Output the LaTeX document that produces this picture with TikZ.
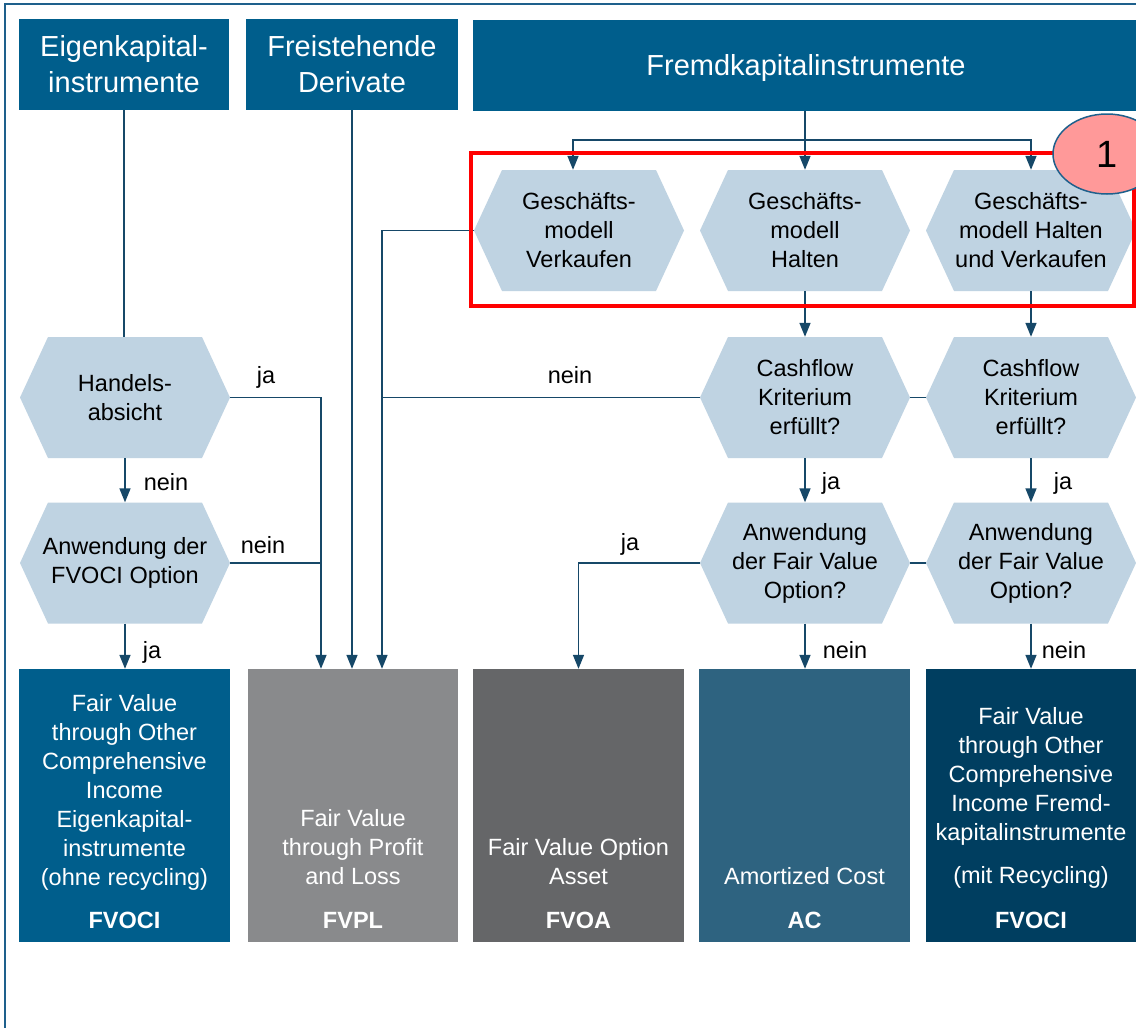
\documentclass[tikz,border=0pt]{standalone}
\usepackage{fontspec}
\setmainfont{Liberation Sans}
\usetikzlibrary{arrows.meta,shapes.geometric}

\definecolor{hdrblue}{RGB}{0,94,140}
\definecolor{hexfill}{RGB}{191,211,226}
\definecolor{linecol}{RGB}{22,72,104}
\definecolor{framecol}{RGB}{30,96,140}
\definecolor{fvplgray}{RGB}{137,138,140}
\definecolor{fvoagray}{RGB}{101,102,104}
\definecolor{acblue}{RGB}{46,99,128}
\definecolor{fkblue}{RGB}{0,62,96}
\definecolor{markfill}{RGB}{255,153,153}

% hexagonal decision box: name, x, y, text
\newcommand\HexNode[4]{%
  \fill[hexfill] ({#2-105},#3) -- ({#2-77},{#3-60.5}) -- ({#2+77},{#3-60.5})
    -- ({#2+105},#3) -- ({#2+77},{#3+60.5}) -- ({#2-77},{#3+60.5}) -- cycle;
  \node[hextxt] (#1) at (#2,#3) {#4};
}

\begin{document}
\begin{tikzpicture}[x=1pt,y=-1pt,
  conn/.style={draw=linecol,line width=1.5pt},
  arr/.style={conn,-{Triangle[length=14pt,width=11pt]}},
  hdr/.style={fill=hdrblue,text=white,inner sep=0,align=center,minimum height=91pt,
              font=\fontsize{29}{36}\selectfont},
  hextxt/.style={inner sep=0,minimum width=210pt,minimum height=121pt,align=center,
                 font=\fontsize{23.5}{29}\selectfont},
  lbl/.style={inner sep=0,font=\fontsize{23.5}{29}\selectfont},
  res/.style={inner sep=0,minimum width=211pt,minimum height=273pt},
  restxt/.style={inner sep=0,align=center,text=white,font=\fontsize{23.5}{29}\selectfont},
  resabbr/.style={inner sep=0,text=white,font=\fontsize{23.5}{29}\selectfont\bfseries},
]
\useasboundingbox (0,0) rectangle (1136,1028);
\fill[white] (0,0) rectangle (1136,1028);
\draw[framecol,line width=1.2pt] (5,1040) -- (5,4) -- (1145,4);

% category headers
\node[hdr,minimum width=210pt] (eigen) at (124,64.5) {Eigenkapital-\\instrumente};
\node[hdr,minimum width=212pt] (freist) at (352,64.5) {Freistehende\\Derivate};
\node[hdr,minimum width=666pt,text height=20.8pt,text depth=0pt] (fkhdr) at (806,65.5) {Fremdkapitalinstrumente};

% decision hexagons
\HexNode{verk}{579}{230.5}{Geschäfts-\\modell\\Verkaufen}
\HexNode{halten}{805}{230.5}{Geschäfts-\\modell\\Halten}
\HexNode{huv}{1031}{230.5}{Geschäfts-\\modell Halten\\und Verkaufen}
\HexNode{handels}{125}{397.5}{Handels-\\absicht}
\HexNode{cf1}{805}{397.5}{Cashflow\\Kriterium\\erfüllt?}
\HexNode{cf2}{1031}{397.5}{Cashflow\\Kriterium\\erfüllt?}
\HexNode{fvociopt}{125}{563}{Anwendung der\\FVOCI Option}
\HexNode{fvo1}{805}{563}{Anwendung\\der Fair Value\\Option?}
\HexNode{fvo2}{1031}{563}{Anwendung\\der Fair Value\\Option?}

% measurement categories
\node[res,fill=hdrblue] (ek) at (124.5,805.5) {};
\node[res,fill=fvplgray,minimum width=210pt] (fvpl) at (353,805.5) {};
\node[res,fill=fvoagray] (fvoa) at (578.5,805.5) {};
\node[res,fill=acblue] (ac) at (804.5,805.5) {};
\node[res,fill=fkblue,minimum width=212pt] (fkres) at (1032,805.5) {};

\node[restxt] (ek-t) at (124.5,792.5) {Fair Value\\through Other\\Comprehensive\\Income\\Eigenkapital-\\instrumente\\(ohne recycling)};
\node[restxt] (fvpl-t) at (353,847) {Fair Value\\through Profit\\and Loss};
\node[restxt] (fvoa-t) at (578.5,861.5) {Fair Value Option\\Asset};
\node[restxt] (ac-t) at (804.5,876) {Amortized Cost};
\node[restxt] (fk-t) at (1031,776.5) {Fair Value\\through Other\\Comprehensive\\Income Fremd-\\kapitalinstrumente};
\node[restxt] (fk-r) at (1031,877.4) {(mit Recycling)};
\node[resabbr] (ek-a) at (124.5,920) {FVOCI};
\node[resabbr] (fvpl-a) at (353,920) {FVPL};
\node[resabbr] (fvoa-a) at (578.5,920) {FVOA};
\node[resabbr] (ac-a) at (804.5,920) {AC};
\node[resabbr] (fk-a) at (1031,920) {FVOCI};

% connectors
\draw[conn] (eigen.south) -- (eigen.south |- handels.north);
\draw[arr] (handels.south) -- (fvociopt.north);
\draw[arr] (fvociopt.south) -- (fvociopt.south |- ek.north);
\coordinate (fvplA) at ([xshift=-32pt]fvpl.north);
\coordinate (fvplC) at ([xshift=29pt]fvpl.north);
\draw[arr] (handels.east) -| (fvplA);
\draw[conn] (fvociopt.east) -- (fvociopt.east -| fvplA);
\draw[arr] (freist.south) -- (freist.south |- fvpl.north);
\draw[arr] (verk.west) -| (fvplC);
\draw[conn] (cf1.west) -- (cf1.west -| fvplC);
\coordinate (split) at (805,140);
\draw[conn] (fkhdr.south -| split) -- (split);
\draw[arr] (split) -| ([xshift=-6pt]verk.north);
\draw[arr] (split) -| (huv.north);
\draw[arr] (split) -- (halten.north);
\draw[arr] (halten.south) -- (cf1.north);
\draw[arr] (huv.south) -- (cf2.north);
\draw[conn] (cf1.east) -- (cf2.west);
\draw[arr] (cf1.south) -- (fvo1.north);
\draw[arr] (cf2.south) -- (fvo2.north);
\draw[conn] (fvo1.east) -- (fvo2.west);
\draw[arr] (fvo1.west) -| (fvoa.north);
\draw[arr] (fvo1.south) -- (fvo1.south |- ac.north);
\draw[arr] (fvo2.south) -- (fvo2.south |- fkres.north);

% branch labels
\node[lbl] (l-ja1) at (266,377) {ja};
\node[lbl] (l-nein1) at (166,481.6) {nein};
\node[lbl] (l-nein2) at (263,544.6) {nein};
\node[lbl] (l-ja2) at (152,652) {ja};
\node[lbl] (l-nein3) at (570,375) {nein};
\node[lbl] (l-ja3) at (630,544) {ja};
\node[lbl] (l-ja4) at (831,483) {ja};
\node[lbl] (l-ja5) at (1063,483) {ja};
\node[lbl] (l-nein4) at (845,649.6) {nein};
\node[lbl] (l-nein5) at (1064,649.6) {nein};

% highlighted business models
\draw[red,line width=4.5pt] (471,153) rectangle (1134,306);
\node[ellipse,draw=framecol,line width=1.5pt,fill=markfill,inner sep=0,
      minimum width=108pt,minimum height=80pt,
      font=\fontsize{38}{40}\selectfont] (mark) at (1107,154) {1};
\end{tikzpicture}
\end{document}
